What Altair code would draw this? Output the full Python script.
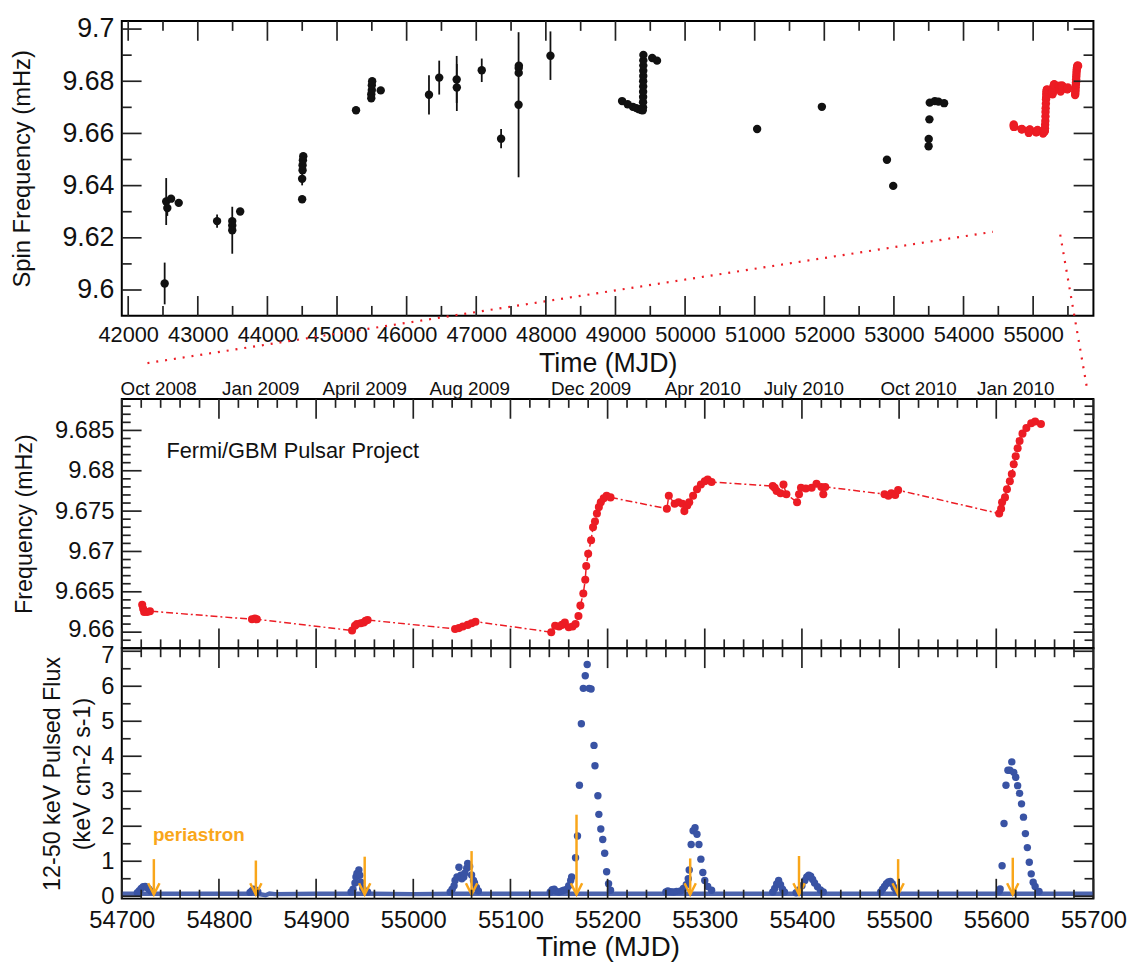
import altair as alt
import pandas as pd
import numpy as np

FONT = "Liberation Sans"
RED = "#ec1c24"
BLUE = "#3953a4"
ORANGE = "#f9a61a"
INK = "#111111"

# ---------------- top panel: historical spin frequencies ----------------
hist_mjd = [42524, 42546, 42562, 42616, 42726, 43277, 43495, 43495, 43495, 43609,
            44499, 44499, 44505, 44505, 44510, 44515, 45273, 45492, 45492, 45500,
            45500, 45505, 45628, 46321, 46468, 46719, 46721, 47079, 47357, 47608,
            47610, 47610, 47612, 48066,
            49095, 49175, 49250, 49300, 49340, 49370, 49392,
            49396, 49396, 49397, 49397, 49398, 49398, 49399, 49399, 49400, 49400, 49401,
            49528, 49597, 51035, 51965, 52900, 52990, 53498, 53500, 53510, 53515,
            53588, 53640, 53721]
hist_freq = [9.6025, 9.6339, 9.6314, 9.6350, 9.6334, 9.6264, 9.6264, 9.6247, 9.6229, 9.6301,
             9.6348, 9.6426, 9.6459, 9.6478, 9.6497, 9.6513, 9.6689, 9.6735, 9.6750, 9.6766,
             9.6785, 9.6800, 9.6765, 9.6748, 9.6814, 9.6807, 9.6776, 9.6842, 9.6580, 9.6710,
             9.6832, 9.6851, 9.6860, 9.6898,
             9.6724, 9.6712, 9.6702, 9.6697, 9.6693, 9.6690, 9.6689,
             9.6700, 9.6720, 9.6740, 9.6760, 9.6780, 9.6800, 9.6820, 9.6840, 9.6860, 9.6880, 9.6901,
             9.6889, 9.6879, 9.6617, 9.6702, 9.6499, 9.6399, 9.6551, 9.6579, 9.6654, 9.6718,
             9.6724, 9.6722, 9.6716]
hist_err = [0.0080, 0.0090, 0.0030, 0.0, 0.0, 0.0025, 0.0, 0.0, 0.0090, 0.0,
            0.0, 0.0025, 0.0, 0.0, 0.0, 0.0, 0.0, 0.0, 0.0, 0.0,
            0.0, 0.0, 0.0, 0.0075, 0.0065, 0.0090, 0.0090, 0.0045, 0.0037, 0.0278,
            0.0, 0.0, 0.0, 0.0093,
            0.0, 0.0, 0.0, 0.0, 0.0, 0.0, 0.0,
            0.0, 0.0, 0.0, 0.0, 0.0, 0.0, 0.0, 0.0, 0.0, 0.0, 0.0,
            0.0, 0.0, 0.0, 0.0, 0.0, 0.0, 0.0, 0.0, 0.0, 0.0,
            0.0, 0.0, 0.0]

# ---------------- Fermi/GBM frequencies ----------------
gbm_mjd = [54721, 54722, 54723, 54726, 54729, 54834, 54837, 54839,
           54937, 54940, 54942, 54946, 54949, 54951, 54953,
           55043, 55047, 55051, 55056, 55060, 55064,
           55142, 55146, 55150, 55153, 55156, 55160, 55164, 55167, 55170, 55172,
           55175, 55177, 55178, 55180, 55183, 55185, 55187, 55189, 55191, 55193,
           55196, 55199, 55203,
           55261, 55263, 55269, 55273, 55277, 55279, 55282, 55284, 55288, 55292,
           55296, 55300, 55303, 55307,
           55370, 55372, 55374, 55378, 55381, 55384, 55395, 55397, 55399, 55404,
           55410, 55415, 55420, 55422, 55424,
           55485, 55489, 55492, 55496, 55499,
           55603, 55605, 55606, 55609, 55611, 55614, 55616, 55618, 55620, 55622,
           55624, 55627, 55631, 55636, 55640, 55646]
gbm_freq = [9.6634, 9.6629, 9.6625, 9.6625, 9.6626, 9.6616, 9.6617, 9.6616,
            9.6602, 9.6608, 9.6610, 9.6611, 9.6612, 9.6614, 9.6615,
            9.6604, 9.6605, 9.6607, 9.6609, 9.6611, 9.6613,
            9.6600, 9.6608, 9.6607, 9.6609, 9.6612, 9.6606, 9.6607, 9.6610, 9.6620, 9.6633,
            9.6648, 9.6665, 9.6682, 9.6697, 9.6714, 9.6730, 9.6737, 9.6747, 9.6755, 9.6761,
            9.6766, 9.6769, 9.6767,
            9.6753, 9.6769, 9.6759, 9.6761, 9.6759, 9.6750, 9.6757, 9.6761, 9.6769, 9.6777,
            9.6783, 9.6787, 9.6789, 9.6786,
            9.6781, 9.6779, 9.6775, 9.6772, 9.6783, 9.6771, 9.6761, 9.6771, 9.6779, 9.6778,
            9.6779, 9.6784, 9.6780, 9.6771, 9.6780,
            9.6771, 9.6769, 9.6772, 9.6770, 9.6776,
            9.6747, 9.6753, 9.6761, 9.6767, 9.6777, 9.6787, 9.6796, 9.6808, 9.6818, 9.6828,
            9.6837, 9.6846, 9.6853, 9.6859, 9.6861, 9.6858]

# ---------------- pulsed flux ----------------
flux_mjd = [54716, 54718, 54720, 54722, 54724, 54726, 54728, 54730,
            54832, 54834, 54836, 54838, 54840,
            54936, 54938, 54940, 54941, 54942, 54944, 54945, 54946, 54948, 54950, 54953,
            55038, 55040, 55042, 55043, 55045, 55047, 55049, 55050, 55052, 55053, 55055,
            55056, 55058, 55060, 55062, 55063, 55065, 55067,
            55141, 55143, 55145, 55147, 55150, 55153, 55155, 55158, 55160, 55162, 55163,
            55167, 55169, 55171, 55173, 55175, 55177, 55179, 55181, 55183, 55186, 55187,
            55190, 55191, 55193, 55195, 55197, 55199, 55201, 55203,
            55260, 55262, 55265, 55268, 55271, 55275, 55278, 55281, 55283, 55284, 55286,
            55288, 55290, 55292, 55294, 55296, 55298, 55300, 55303, 55307,
            55370, 55372, 55374, 55376, 55378, 55380, 55382,
            55394, 55397, 55400, 55403, 55405, 55407, 55409, 55411, 55413, 55416, 55419, 55422,
            55481, 55483, 55485, 55487, 55489, 55491, 55493, 55495, 55497,
            55603, 55604, 55606, 55608, 55610, 55612, 55614, 55616, 55618, 55620,
            55622, 55624, 55626, 55628, 55630, 55632, 55634, 55636, 55638, 55640, 55644]
flux_val = [0.10, 0.16, 0.22, 0.27, 0.28, 0.25, 0.20, 0.14,
            0.11, 0.16, 0.20, 0.17, 0.12,
            0.12, 0.20, 0.38, 0.55, 0.65, 0.75, 0.60, 0.40, 0.22, 0.15, 0.12,
            0.12, 0.20, 0.30, 0.45, 0.55, 0.83, 0.60, 0.50, 0.55, 0.66, 0.80,
            0.94, 0.85, 0.61, 0.45, 0.38, 0.25, 0.15,
            0.12, 0.19, 0.20, 0.14, 0.12, 0.15, 0.17, 0.20, 0.30, 0.45, 0.55,
            1.10, 1.72, 3.17, 4.93, 5.94, 6.30, 6.62, 5.94, 5.92, 4.31, 3.73,
            2.87, 2.34, 1.92, 1.62, 1.23, 0.70, 0.36, 0.17,
            0.12, 0.15, 0.13, 0.12, 0.14, 0.15, 0.22, 0.33, 0.50, 0.75, 1.48,
            1.87, 1.96, 1.77, 1.48, 1.06, 0.68, 0.45, 0.28, 0.17,
            0.12, 0.22, 0.35, 0.45, 0.33, 0.20, 0.12,
            0.10, 0.18, 0.30, 0.45, 0.55, 0.60, 0.57, 0.48, 0.38, 0.27, 0.18, 0.12,
            0.12, 0.20, 0.28, 0.36, 0.41, 0.42, 0.36, 0.25, 0.15,
            0.14, 0.21, 0.87, 2.08, 3.17, 3.60, 3.60, 3.84, 3.54, 3.40,
            3.16, 2.94, 2.64, 2.26, 1.79, 1.39, 0.97, 0.64, 0.40, 0.28, 0.14]

base_mjd = [54700, 54740, 54800, 54840, 54848, 54852, 54858, 54900, 54935, 54960,
            55000, 55040, 55070, 55140, 55205, 55260, 55310, 55370, 55430, 55480,
            55510, 55600, 55650, 55700]
base_flux = [0.07, 0.07, 0.07, 0.07, 0.03, 0.08, 0.06, 0.07, 0.07, 0.07,
             0.06, 0.07, 0.07, 0.07, 0.07, 0.07, 0.07, 0.07, 0.07, 0.07,
             0.07, 0.07, 0.07, 0.07]

peri_mjd = [54733, 54838, 54950, 55060, 55168, 55285, 55397, 55499, 55617]
peri_top = [1.06, 1.02, 1.13, 1.29, 2.33, 1.08, 1.15, 1.06, 1.10]
peri_tip = [0.05, 0.05, 0.05, 0.05, 0.05, 0.05, 0.05, 0.05, 0.05]

month_labels = ["Oct 2008", "Jan 2009", "April 2009", "Aug  2009", "Dec 2009",
                "Apr 2010", "July 2010", "Oct 2010", "Jan 2010"]
month_mjd = [54738, 54843, 54950, 55058, 55183, 55298, 55402, 55520, 55620]

# zoom connector (in top-panel data units)
conn_seg = ["a", "a", "b", "b"]
conn_mjd = [42277, 54422, 55389, 55773]
conn_freq = [9.5720, 9.6223, 9.6212, 9.5625]

# ---------------- scales / axes / ticks ----------------
W = 982
H_TOP, H_MID, H_BOT = 298, 252, 253
TOP_X = alt.Scale(domain=[41908, 55866], nice=False, zero=False)
TOP_Y = alt.Scale(domain=[9.5901, 9.7031], nice=False, zero=False)
MID_X = alt.Scale(domain=[54700, 55700], nice=False, zero=False)
MID_Y = alt.Scale(domain=[9.658, 9.6889], nice=False, zero=False)
BOT_Y = alt.Scale(domain=[-0.068, 7.085], nice=False, zero=False)

top_x_major = list(range(42000, 55001, 1000))
top_x_minor = list(range(42500, 55501, 1000))
top_y_major = [9.60, 9.62, 9.64, 9.66, 9.68, 9.70]
top_y_minor = [9.61, 9.63, 9.65, 9.67, 9.69]
mid_x_major = list(range(54700, 55701, 100))
mid_x_minor = [v for v in range(54700, 55701, 20) if v % 100]
mid_y_major = [9.660, 9.665, 9.670, 9.675, 9.680, 9.685]
mid_y_minor = [round(9.659 + 0.001 * i, 3) for i in range(30)]
mid_y_minor = [v for v in mid_y_minor if round(v * 1000) % 5 and v < 9.6889]
bot_y_major = [0, 1, 2, 3, 4, 5, 6, 7]
bot_y_minor = [0.5, 1.5, 2.5, 3.5, 4.5, 5.5, 6.5]

NOTICK = dict(ticks=False, tickSize=0, domain=False, grid=False, labelOverlap=False)

TOP_XAX = alt.Axis(values=top_x_major, format="d", labelFontSize=22, labelPadding=9,
                   labelFlush=False, titleFontSize=27, titleBaseline="middle", titleY=48, **NOTICK)
TOP_YAX = alt.Axis(values=top_y_major, format=".3~f", labelFontSize=27, labelPadding=8,
                   titleFontSize=24, titleBaseline="middle", titleX=-100, **NOTICK)
MID_YAX = alt.Axis(values=mid_y_major, format=".3~f", labelFontSize=24, labelPadding=8,
                   labelOffset=alt.condition("datum.value < 9.6625", alt.value(-3), alt.value(0)),
                   titleFontSize=23.5, titleBaseline="middle", titleX=-98, **NOTICK)
BOT_XAX = alt.Axis(values=mid_x_major, format="d", labelFontSize=24, labelPadding=10,
                   labelFlush=False, titleFontSize=28, titleBaseline="middle", titleY=49, **NOTICK)
BOT_YAX = alt.Axis(values=bot_y_major, format="d", labelFontSize=24, labelPadding=8,
                   labelOffset=alt.condition("datum.value > 6.5", alt.value(4), alt.value(0)),
                   titleFontSize=23.5, titleBaseline="middle", titleLineHeight=30,
                   titleX=-70, **NOTICK)

TOP_XT = "Time (MJD)"
TOP_YT = "Spin Frequency (mHz)"
MID_YT = "Frequency  (mHz)"
BOT_XT = "Time  (MJD)"
BOT_YT = ["12-50 keV Pulsed Flux", "(keV cm-2 s-1)"]


def top_x(f):
    return alt.X(f, type="quantitative", scale=TOP_X, axis=TOP_XAX, title=TOP_XT)


def top_y(f):
    return alt.Y(f, type="quantitative", scale=TOP_Y, axis=TOP_YAX, title=TOP_YT)


def mid_x(f):
    return alt.X(f, type="quantitative", scale=MID_X, axis=None)


def mid_y(f):
    return alt.Y(f, type="quantitative", scale=MID_Y, axis=MID_YAX, title=MID_YT)


def bot_x(f):
    return alt.X(f, type="quantitative", scale=MID_X, axis=BOT_XAX, title=BOT_XT)


def bot_y(f):
    return alt.Y(f, type="quantitative", scale=BOT_Y, axis=BOT_YAX, title=BOT_YT)


def frame_ticks(xenc, yenc, xmaj, xmin, ymaj, ymin, h, lmaj=20, lmin=9):
    layers = []
    for vals, L in [(xmaj, lmaj), (xmin, lmin)]:
        base = alt.Chart(pd.DataFrame({"t": vals})).mark_rule(color="#222", strokeWidth=1.7)
        layers.append(base.encode(x=xenc("t"), y=alt.value(0), y2=alt.value(L)))
        layers.append(base.encode(x=xenc("t"), y=alt.value(h), y2=alt.value(h - L)))
    for vals, L in [(ymaj, lmaj), (ymin, lmin)]:
        base = alt.Chart(pd.DataFrame({"t": vals})).mark_rule(color="#222", strokeWidth=1.7)
        layers.append(base.encode(y=yenc("t"), x=alt.value(0), x2=alt.value(L)))
        layers.append(base.encode(y=yenc("t"), x=alt.value(W), x2=alt.value(W - L)))
    return layers


# ---------------- top panel ----------------
hist = pd.DataFrame({"mjd": hist_mjd, "freq": hist_freq, "err": hist_err})
hist["lo"] = hist["freq"] - hist["err"]
hist["hi"] = hist["freq"] + hist["err"]
gbm = pd.DataFrame({"mjd": gbm_mjd, "freq": gbm_freq})

top_err = alt.Chart(hist[hist["err"] > 0]).mark_rule(color=INK, strokeWidth=1.8).encode(
    x=top_x("mjd"), y=top_y("lo"), y2="hi:Q",
)
top_pts = alt.Chart(hist).mark_circle(color=INK, size=72, opacity=1).encode(
    x=top_x("mjd"), y=top_y("freq"),
)
top_red = alt.Chart(gbm).mark_circle(color=RED, size=72, opacity=1).encode(
    x=top_x("mjd"), y=top_y("freq"),
)
conn = alt.Chart(pd.DataFrame({"seg": conn_seg, "mjd": conn_mjd, "freq": conn_freq})).mark_line(
    color=RED, strokeWidth=2.2, strokeDash=[2, 7], clip=False
).encode(x=top_x("mjd"), y=top_y("freq"), detail="seg:N")

top = alt.layer(
    top_pts, top_err, top_red, conn,
    *frame_ticks(top_x, top_y, top_x_major, top_x_minor, top_y_major, top_y_minor, H_TOP, 20, 10)
).properties(width=W, height=H_TOP)

# ---------------- middle panel ----------------
mid_line = alt.Chart(gbm).mark_line(color=RED, strokeWidth=1.5, strokeDash=[7, 3, 2, 3]).encode(
    x=mid_x("mjd"), y=mid_y("freq"),
)
mid_pts = alt.Chart(gbm).mark_circle(color=RED, size=66, opacity=1).encode(
    x=mid_x("mjd"), y=mid_y("freq"),
)
months = alt.Chart(pd.DataFrame({"mjd": month_mjd, "lab": month_labels})).mark_text(
    fontSize=19, baseline="alphabetic", align="center", color=INK
).encode(x=mid_x("mjd"), y=alt.value(-4), text="lab:N")
fermi = alt.Chart(pd.DataFrame({"mjd": [54746], "freq": [9.6825],
                                "lab": ["Fermi/GBM Pulsar Project"]})).mark_text(
    fontSize=22, baseline="middle", align="left", color=INK
).encode(x=mid_x("mjd"), y=mid_y("freq"), text="lab:N")

mid = alt.layer(
    mid_line, mid_pts, months, fermi,
    *frame_ticks(mid_x, mid_y, mid_x_major, mid_x_minor, mid_y_major, mid_y_minor, H_MID)
).properties(width=W, height=H_MID)

# ---------------- bottom panel ----------------
flux = pd.DataFrame({"mjd": flux_mjd, "flux": flux_val})
base = pd.DataFrame({"mjd": base_mjd, "flux": base_flux})
peri = pd.DataFrame({"mjd": peri_mjd, "top": peri_top, "tip": peri_tip})

bot_base = alt.Chart(base).mark_line(color=BLUE, strokeWidth=4.5, opacity=0.9).encode(
    x=bot_x("mjd"), y=bot_y("flux"),
)
bot_pts = alt.Chart(flux).mark_circle(color=BLUE, size=56, opacity=1).encode(
    x=bot_x("mjd"), y=bot_y("flux"),
)
arrows = alt.Chart(peri).mark_rule(color=ORANGE, strokeWidth=2.5).encode(
    x=bot_x("mjd"), y=bot_y("top"), y2="tip:Q",
)
heads = alt.Chart(peri).mark_point(
    shape="M-1,-2L0,0L1,-2", size=130, filled=False, color=ORANGE, strokeWidth=2.5, opacity=1
).encode(x=bot_x("mjd"), y=bot_y("tip"))
peri_lab = alt.Chart(pd.DataFrame({"mjd": [54732], "flux": [1.74], "lab": ["periastron"]})).mark_text(
    fontSize=19, fontWeight="bold", baseline="middle", align="left", color=ORANGE
).encode(x=bot_x("mjd"), y=bot_y("flux"), text="lab:N")

bot = alt.layer(
    bot_base, bot_pts, arrows, heads, peri_lab,
    *frame_ticks(bot_x, bot_y, mid_x_major, mid_x_minor, bot_y_major, bot_y_minor, H_BOT)
).properties(width=W, height=H_BOT)

inner = alt.vconcat(mid, bot, spacing=0, bounds="flush")
chart = alt.vconcat(top, inner, spacing=84, bounds="flush").properties(
    padding={"left": 2, "top": 1, "right": 5, "bottom": 0}
).configure_view(
    stroke="#000000", strokeWidth=2
).configure_axis(
    labelFont=FONT, titleFont=FONT, labelColor=INK, titleColor=INK, titleFontWeight="normal"
).configure_text(
    font=FONT
)

chart.save("out.html", embed_options={"renderer": "svg", "actions": False})
